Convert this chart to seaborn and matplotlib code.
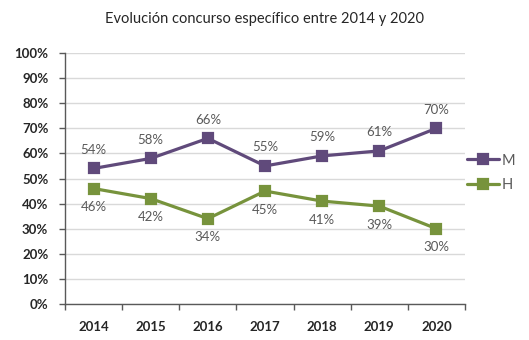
import matplotlib
matplotlib.use("Agg")
import matplotlib.pyplot as plt
import seaborn as sns
import pandas as pd
from matplotlib.ticker import MultipleLocator, FuncFormatter, FixedLocator

years = ["2014", "2015", "2016", "2017", "2018", "2019", "2020"]
mujeres = [54, 58, 66, 55, 59, 61, 70]
hombres = [46, 42, 34, 45, 41, 39, 30]
series_names = ["M", "H"]
colors = {"M": "#604A7B", "H": "#77933C"}
title = "Evolución concurso específico entre 2014 y 2020"

df = pd.DataFrame({
    "year": years * 2,
    "pos": list(range(len(years))) * 2,
    "value": mujeres + hombres,
    "serie": ["M"] * len(years) + ["H"] * len(years),
})

sns.set_theme(style="white")
plt.rcParams["font.family"] = ["Lato", "DejaVu Sans"]
plt.rcParams["lines.solid_joinstyle"] = "round"
plt.rcParams["lines.solid_capstyle"] = "round"

fig = plt.figure(figsize=(5.29, 3.40), dpi=100)
ax = fig.add_axes([65 / 529, 1 - 304 / 340, 400 / 529, 251 / 340])

marker_style = dict(marker="s", markersize=6.5, markeredgewidth=1.6)

sns.lineplot(data=df, x="pos", y="value", hue="serie", hue_order=series_names,
             palette=colors, linewidth=2.3, ax=ax, legend=False, **marker_style)
for line in ax.lines:
    line.set_markeredgecolor(line.get_color())
    line.set_markerfacecolor(line.get_color())

ax.set_xlim(-0.5, len(years) - 0.5)
ax.set_ylim(0, 100)
ax.yaxis.set_major_locator(MultipleLocator(10))
ax.yaxis.set_major_formatter(FuncFormatter(lambda v, _: f"{int(v)}%"))
ax.grid(axis="y", color="#D9D9D9", linewidth=1)
ax.set_axisbelow(True)

# Year labels centred in each category, tick marks on the boundaries
ax.xaxis.set_major_locator(FixedLocator([i - 0.5 for i in range(len(years) + 1)]))
ax.xaxis.set_major_formatter(FuncFormatter(lambda v, _: ""))
ax.xaxis.set_minor_locator(FixedLocator(list(range(len(years)))))
ax.set_xticklabels(years, minor=True)
ax.tick_params(axis="x", which="minor", length=0, pad=12, labelsize=9.5,
               labelcolor="#262626")
ax.tick_params(axis="x", which="major", length=4, width=1, color="#595959",
               direction="out", bottom=True)
ax.tick_params(axis="y", length=4, width=1, color="#595959", direction="out",
               left=True, labelsize=9.5, labelcolor="#262626", pad=8)
for lbl in ax.get_xticklabels(minor=True) + ax.get_yticklabels():
    lbl.set_fontweight("bold")

for side in ["top", "right"]:
    ax.spines[side].set_visible(False)
for side in ["left", "bottom"]:
    ax.spines[side].set_color("#595959")
    ax.spines[side].set_linewidth(1)

ax.set_xlabel("")
ax.set_ylabel("")

# Value labels: M above its line, H below
for i, (m, h) in enumerate(zip(mujeres, hombres)):
    ax.annotate(f"{m}%", (i, m), xytext=(0, 9), textcoords="offset points",
                ha="center", va="bottom", fontsize=9.5, color="#595959")
    ax.annotate(f"{h}%", (i, h), xytext=(0, -9), textcoords="offset points",
                ha="center", va="top", fontsize=9.5, color="#595959")

# Legend on the right
handles = [plt.Line2D([], [], color=colors[s], markerfacecolor=colors[s],
                      markeredgecolor=colors[s], linewidth=2.3, **marker_style)
           for s in series_names]
fig.legend(handles, series_names, loc="center left",
           bbox_to_anchor=(467 / 529, 1 - 173 / 340), frameon=False,
           fontsize=10.5, handlelength=2.2, handletextpad=0.2,
           borderpad=0, borderaxespad=0,
           labelspacing=0.75, labelcolor="#595959")

fig.text(0.5, 1 - 19 / 340, title, ha="center", va="center", fontsize=10.5,
         color="#262626")

fig.savefig("out.png", dpi=100, facecolor="white")
